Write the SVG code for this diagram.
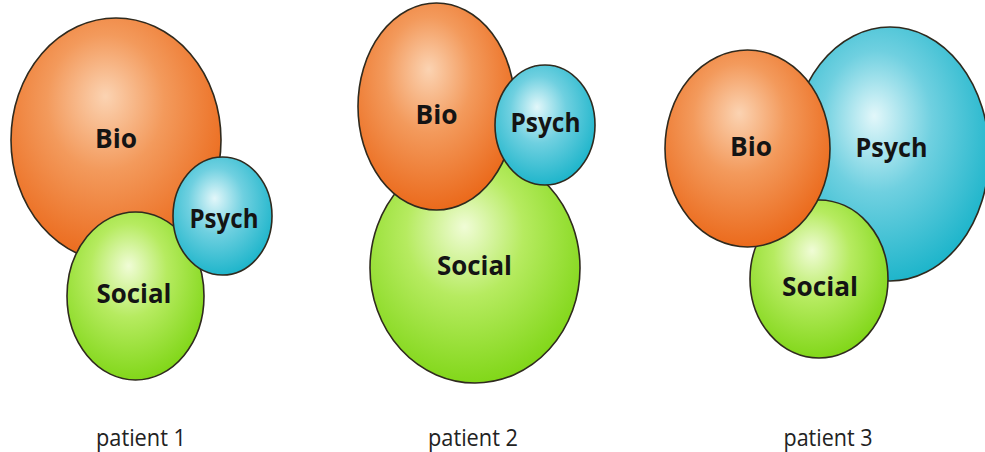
<svg xmlns="http://www.w3.org/2000/svg" width="985" height="452" viewBox="0 0 985 452">
<style>
.c{stroke:#2f2a1e;stroke-width:1.6}
.bio{fill:url(#gBio)}
.psy{fill:url(#gPsy)}
.soc{fill:url(#gSoc)}
.lbl{font-family:"Open Sans","Noto Sans","Liberation Sans",sans-serif;font-weight:700;font-size:27px;fill:#141414;text-anchor:middle}
.cap{font-family:"Open Sans","Noto Sans","Liberation Sans",sans-serif;font-weight:400;font-size:23px;fill:#222;text-anchor:middle}
</style>
<defs>
<radialGradient id="gBio" cx="0.45" cy="0.38" r="0.62" fx="0.45" fy="0.32">
<stop offset="0" stop-color="#fbd3b2"/>
<stop offset="0.45" stop-color="#f39a5c"/>
<stop offset="1" stop-color="#eb6a1c"/>
</radialGradient>
<radialGradient id="gPsy" cx="0.45" cy="0.4" r="0.62" fx="0.42" fy="0.35">
<stop offset="0" stop-color="#e2f7fa"/>
<stop offset="0.45" stop-color="#6fd0e0"/>
<stop offset="1" stop-color="#1bb4ca"/>
</radialGradient>
<radialGradient id="gSoc" cx="0.45" cy="0.38" r="0.62" fx="0.45" fy="0.32">
<stop offset="0" stop-color="#f0fcd6"/>
<stop offset="0.45" stop-color="#b6eb60"/>
<stop offset="1" stop-color="#82d71a"/>
</radialGradient>
</defs>
<rect width="985" height="452" fill="#ffffff"/>
<g id="patient1">
<g id="p1-bio"><ellipse class="c bio" cx="116" cy="140" rx="105" ry="122"/><text class="lbl" x="116" y="148" textLength="42" lengthAdjust="spacingAndGlyphs">Bio</text></g>
<g id="p1-social"><ellipse class="c soc" cx="135.5" cy="296" rx="68.5" ry="84"/><text class="lbl" x="134" y="303" textLength="75" lengthAdjust="spacingAndGlyphs">Social</text></g>
<g id="p1-psych"><ellipse class="c psy" cx="222.5" cy="216" rx="49.5" ry="59"/><text class="lbl" x="224" y="228" textLength="69" lengthAdjust="spacingAndGlyphs">Psych</text></g>
<text id="p1-caption" class="cap" x="141" y="446" textLength="90" lengthAdjust="spacingAndGlyphs">patient 1</text>
</g>
<g id="patient2">
<g id="p2-social"><ellipse class="c soc" cx="475" cy="268" rx="105" ry="115"/><text class="lbl" x="474.5" y="275" textLength="75" lengthAdjust="spacingAndGlyphs">Social</text></g>
<g id="p2-bio"><ellipse class="c bio" cx="436.5" cy="106.5" rx="78.5" ry="103.5"/><text class="lbl" x="436.5" y="124" textLength="42" lengthAdjust="spacingAndGlyphs">Bio</text></g>
<g id="p2-psych"><ellipse class="c psy" cx="545" cy="125" rx="50" ry="60"/><text class="lbl" x="545.5" y="132" textLength="70" lengthAdjust="spacingAndGlyphs">Psych</text></g>
<text id="p2-caption" class="cap" x="473" y="446" textLength="90" lengthAdjust="spacingAndGlyphs">patient 2</text>
</g>
<g id="patient3">
<g id="p3-psych"><ellipse class="c psy" cx="890" cy="154" rx="99" ry="127"/><text class="lbl" x="891.5" y="157" textLength="72" lengthAdjust="spacingAndGlyphs">Psych</text></g>
<g id="p3-social"><ellipse class="c soc" cx="819" cy="279" rx="69" ry="79"/><text class="lbl" x="820" y="296" textLength="76" lengthAdjust="spacingAndGlyphs">Social</text></g>
<g id="p3-bio"><ellipse class="c bio" cx="747.5" cy="148.5" rx="82.5" ry="98.5"/><text class="lbl" x="751" y="156" textLength="42" lengthAdjust="spacingAndGlyphs">Bio</text></g>
<text id="p3-caption" class="cap" x="828" y="446" textLength="89" lengthAdjust="spacingAndGlyphs">patient 3</text>
</g>
<g id="connectors"/>
</svg>
